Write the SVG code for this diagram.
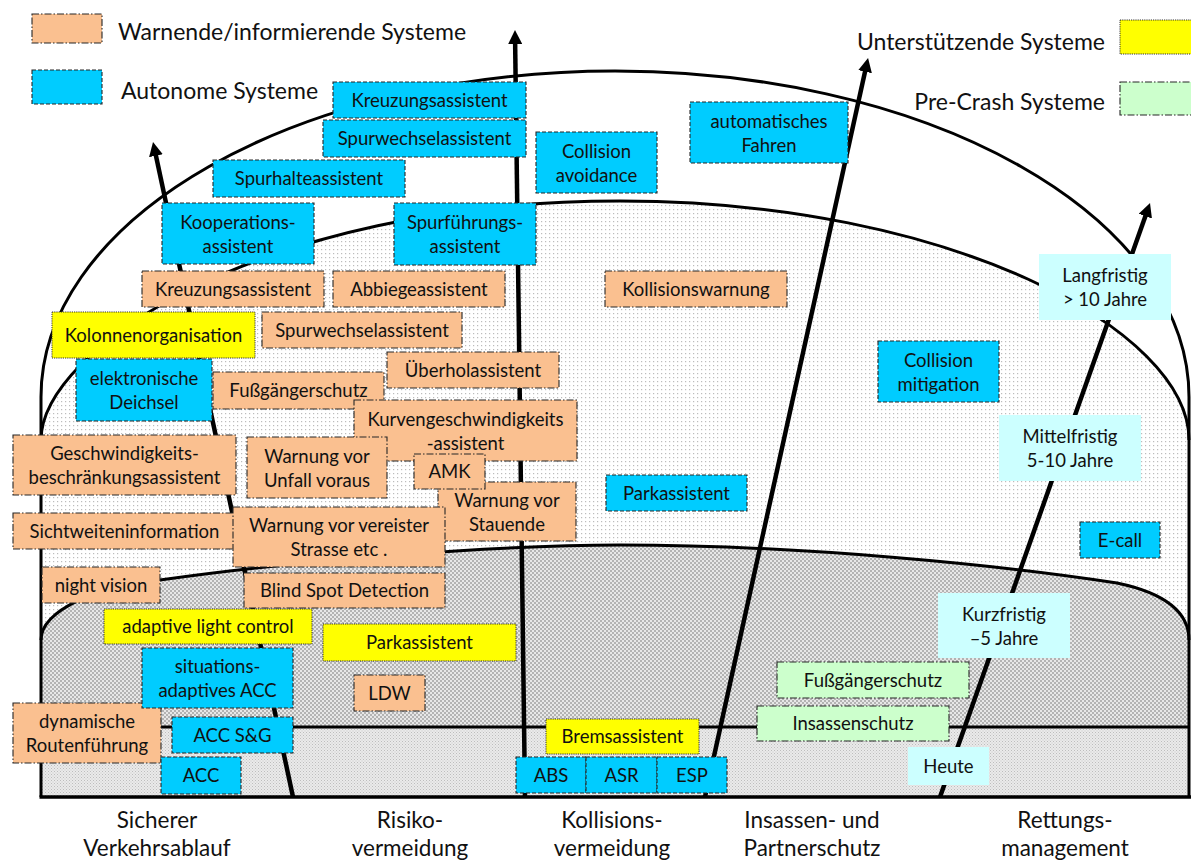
<svg xmlns="http://www.w3.org/2000/svg" width="1191" height="861" viewBox="0 0 1191 861">
  <style>
    text { font-family: Lato, "Open Sans", "Liberation Sans", sans-serif; fill: #111; }
    .lbl { font-size: 18.5px; text-anchor: middle; }
    .big { font-size: 23px; }
    .cap { font-size: 22.5px; text-anchor: middle; }
    .warn { fill: #FAC090; stroke: #262626; stroke-width: 1.1; stroke-dasharray: 7 2 1.5 2; }
    .auto { fill: #00CCFF; stroke: #262626; stroke-width: 1.1; stroke-dasharray: 4 2; }
    .supp { fill: #FFFF00; stroke: #333; stroke-width: 1; stroke-dasharray: 1.2 1; }
    .pre  { fill: #CCFFCC; stroke: #262626; stroke-width: 1.1; stroke-dasharray: 7 2 1.5 2; }
    .time { fill: #CCFFFF; stroke: none; }
    .edge { fill: none; stroke: #000; stroke-width: 3; }
    .arrow { fill: none; stroke: #000; stroke-width: 4.5; marker-end: url(#head); }
  </style>
  <defs>
    <marker id="head" viewBox="0 0 14 14" refX="4" refY="7" markerUnits="userSpaceOnUse" markerWidth="14" markerHeight="14" orient="auto">
      <path d="M0,0 L14,7 L0,14 z" fill="#000"/>
    </marker>
    <pattern id="dotsLight" width="4" height="4" patternUnits="userSpaceOnUse">
      <rect width="4" height="4" fill="#fff"/>
      <rect x="1" y="1" width="1.2" height="1.2" fill="#bcbcbc"/>
    </pattern>
    <pattern id="dotsDense" width="4" height="4" patternUnits="userSpaceOnUse">
      <rect width="4" height="4" fill="#dcdcdc"/>
      <circle cx="1" cy="1" r="1" fill="#a6a6a6"/>
      <circle cx="3" cy="3" r="1" fill="#a6a6a6"/>
      <circle cx="3" cy="1" r="0.8" fill="#f5f5f5"/>
      <circle cx="1" cy="3" r="0.8" fill="#f5f5f5"/>
    </pattern>
    <pattern id="hatchFine" width="3" height="3" patternUnits="userSpaceOnUse">
      <rect width="3" height="3" fill="#eaeaea"/>
      <rect width="1" height="1" fill="#bdbdbd"/>
      <rect x="1.5" y="1.5" width="1" height="1" fill="#c9c9c9"/>
    </pattern>
  </defs>

  <rect width="1191" height="861" fill="#fff"/>

  <!-- time horizon bands -->
  <g id="regions">
    <path d="M41,797 L41,440 C41,350 260,201 620,201 C950,201 1189,330 1189,440 L1189,797 Z" fill="url(#dotsLight)"/>
    <path d="M41,797 L41,640 C41,610 100,585 160,580 C300,560 500,545 620,545 C800,545 1000,565 1117,583 C1160,592 1189,610 1189,640 L1189,797 Z" fill="url(#dotsDense)"/>
    <rect x="41" y="727" width="1148" height="70" fill="url(#hatchFine)"/>
    <path class="edge" d="M41,797 L41,397 A574,326 0 0 1 1189,397 L1189,797"/>
    <path class="edge" d="M41,440 C41,350 260,201 620,201 C950,201 1189,330 1189,440"/>
    <path class="edge" d="M41,640 C41,610 100,585 160,580 C300,560 500,545 620,545 C800,545 1000,565 1117,583 C1160,592 1189,610 1189,640"/>
    <line class="edge" x1="41" y1="727" x2="1189" y2="727"/>
    <line x1="39.5" y1="797" x2="1191" y2="797" stroke="#000" stroke-width="3.5"/>
  </g>

  <!-- category axes -->
  <g id="connectors">
    <line class="arrow" x1="293" y1="797" x2="155.1" y2="151.8"/>
    <line class="arrow" x1="525" y1="797" x2="515.1" y2="40"/>
    <line class="arrow" x1="705" y1="797" x2="865.9" y2="67.8"/>
    <line class="arrow" x1="940" y1="797" x2="1146.7" y2="212.4"/>
  </g>

  <!-- legend -->
  <g id="legend-warn">
    <rect class="warn" x="32" y="14" width="70" height="29"/>
    <text class="big" x="118" y="40">Warnende/informierende Systeme</text>
  </g>
  <g id="legend-auto">
    <rect class="auto" x="32" y="70" width="70" height="34"/>
    <text class="big" x="121" y="99">Autonome Systeme</text>
  </g>
  <g id="legend-supp">
    <rect class="supp" x="1120" y="20" width="72" height="34"/>
    <text class="big" x="1105" y="50" text-anchor="end">Unterstützende Systeme</text>
  </g>
  <g id="legend-pre">
    <rect class="pre" x="1120" y="82" width="72" height="33"/>
    <text class="big" x="1105" y="110" text-anchor="end">Pre-Crash Systeme</text>
  </g>

  <!-- autonomous systems -->
  <g id="a-kreuzung"><rect class="auto" x="333" y="82" width="193" height="36"/><text class="lbl" x="429.5" y="106.5">Kreuzungsassistent</text></g>
  <g id="a-spurwechsel"><rect class="auto" x="323" y="120" width="203" height="37"/><text class="lbl" x="424.5" y="145">Spurwechselassistent</text></g>
  <g id="a-spurhalte"><rect class="auto" x="213" y="160" width="192" height="37"/><text class="lbl" x="309" y="185">Spurhalteassistent</text></g>
  <g id="a-kooperation"><rect class="auto" x="162" y="203" width="152" height="61"/><text class="lbl" x="238" y="228.5">Kooperations-</text><text class="lbl" x="238" y="252.5">assistent</text></g>
  <g id="a-spurfuehrung"><rect class="auto" x="394" y="203" width="142" height="62"/><text class="lbl" x="465" y="229">Spurführungs-</text><text class="lbl" x="465" y="253">assistent</text></g>
  <g id="a-avoidance"><rect class="auto" x="536" y="132" width="121" height="61"/><text class="lbl" x="596.5" y="157.5">Collision</text><text class="lbl" x="596.5" y="181.5">avoidance</text></g>
  <g id="a-auto-fahren"><rect class="auto" x="690" y="102" width="158" height="61"/><text class="lbl" x="769" y="127.5">automatisches</text><text class="lbl" x="769" y="151.5">Fahren</text></g>
  <g id="a-mitigation"><rect class="auto" x="878" y="341" width="121" height="61"/><text class="lbl" x="938.5" y="366.5">Collision</text><text class="lbl" x="938.5" y="390.5">mitigation</text></g>
  <g id="a-park"><rect class="auto" x="606" y="475" width="141" height="36"/><text class="lbl" x="676.5" y="499.5">Parkassistent</text></g>
  <g id="a-ecall"><rect class="auto" x="1080" y="522" width="80" height="36"/><text class="lbl" x="1120" y="546.5">E-call</text></g>
  <g id="a-deichsel"><rect class="auto" x="76" y="359" width="136" height="62"/><text class="lbl" x="144" y="385">elektronische</text><text class="lbl" x="144" y="409">Deichsel</text></g>

  <!-- warning / information systems -->
  <g id="w-kreuzung"><rect class="warn" x="142" y="271" width="182" height="36"/><text class="lbl" x="233" y="295.5">Kreuzungsassistent</text></g>
  <g id="w-abbiege"><rect class="warn" x="333" y="271" width="172" height="36"/><text class="lbl" x="419" y="295.5">Abbiegeassistent</text></g>
  <g id="w-kollision"><rect class="warn" x="605" y="271" width="182" height="36"/><text class="lbl" x="696" y="295.5">Kollisionswarnung</text></g>
  <g id="w-spurwechsel"><rect class="warn" x="262" y="312" width="200" height="36"/><text class="lbl" x="362" y="336.5">Spurwechselassistent</text></g>
  <g id="w-ueberhol"><rect class="warn" x="387" y="352" width="172" height="36"/><text class="lbl" x="473" y="376.5">Überholassistent</text></g>
  <g id="w-fussgaenger"><rect class="warn" x="213" y="372" width="171" height="37"/><text class="lbl" x="298.5" y="397">Fußgängerschutz</text></g>
  <g id="w-kurve"><rect class="warn" x="354" y="400" width="223" height="61"/><text class="lbl" x="465.5" y="425.5">Kurvengeschwindigkeits</text><text class="lbl" x="465.5" y="449.5">-assistent</text></g>
  <g id="w-geschwindigkeit"><rect class="warn" x="13" y="435" width="223" height="60"/><text class="lbl" x="124.5" y="460">Geschwindigkeits-</text><text class="lbl" x="124.5" y="484">beschränkungsassistent</text></g>
  <g id="w-unfall"><rect class="warn" x="247" y="437" width="140" height="61"/><text class="lbl" x="317" y="462.5">Warnung vor</text><text class="lbl" x="317" y="486.5">Unfall voraus</text></g>
  <g id="w-stauende"><rect class="warn" x="438" y="482" width="138" height="59"/><text class="lbl" x="507" y="506.5">Warnung vor</text><text class="lbl" x="507" y="530.5">Stauende</text></g>
  <g id="w-amk"><rect class="warn" x="414" y="454" width="71" height="35"/><text class="lbl" x="449.5" y="478">AMK</text></g>
  <g id="w-sichtweite"><rect class="warn" x="13" y="513" width="223" height="36"/><text class="lbl" x="124.5" y="537.5">Sichtweiteninformation</text></g>
  <g id="w-vereist"><rect class="warn" x="233" y="507" width="212" height="60"/><text class="lbl" x="339" y="532">Warnung vor vereister</text><text class="lbl" x="339" y="556">Strasse etc .</text></g>
  <g id="w-nightvision"><rect class="warn" x="42" y="567" width="118" height="36"/><text class="lbl" x="101" y="591.5">night vision</text></g>
  <g id="w-blindspot"><rect class="warn" x="244" y="573" width="201" height="35"/><text class="lbl" x="344.5" y="597">Blind Spot Detection</text></g>
  <g id="w-ldw"><rect class="warn" x="354" y="675" width="71" height="36"/><text class="lbl" x="389.5" y="699.5">LDW</text></g>
  <g id="w-route"><rect class="warn" x="13" y="703" width="148" height="60"/><text class="lbl" x="87" y="728">dynamische</text><text class="lbl" x="87" y="752">Routenführung</text></g>

  <!-- supporting systems -->
  <g id="u-kolonne"><rect class="supp" x="52" y="312" width="203" height="46"/><text class="lbl" x="153.5" y="341.5">Kolonnenorganisation</text></g>
  <g id="u-light"><rect class="supp" x="104" y="609" width="208" height="35"/><text class="lbl" x="208" y="633">adaptive light control</text></g>
  <g id="u-park"><rect class="supp" x="323" y="624" width="193" height="37"/><text class="lbl" x="419.5" y="649">Parkassistent</text></g>
  <g id="u-brems"><rect class="supp" x="546" y="719" width="153" height="35"/><text class="lbl" x="622.5" y="743">Bremsassistent</text></g>

  <!-- autonomous systems, lower band -->
  <g id="a-situation"><rect class="auto" x="142" y="648" width="151" height="60"/><text class="lbl" x="217.5" y="673">situations-</text><text class="lbl" x="217.5" y="697">adaptives ACC</text></g>
  <g id="a-acc-sg"><rect class="auto" x="172" y="717" width="121" height="36"/><text class="lbl" x="232.5" y="741.5">ACC S&amp;G</text></g>
  <g id="a-acc"><rect class="auto" x="161" y="757" width="80" height="37"/><text class="lbl" x="201" y="782">ACC</text></g>
  <g id="a-abs"><rect class="auto" x="516" y="757" width="70" height="36"/><text class="lbl" x="551" y="781.5">ABS</text></g>
  <g id="a-asr"><rect class="auto" x="586" y="757" width="71" height="36"/><text class="lbl" x="621.5" y="781.5">ASR</text></g>
  <g id="a-esp"><rect class="auto" x="657" y="757" width="70" height="36"/><text class="lbl" x="692" y="781.5">ESP</text></g>

  <!-- pre-crash systems -->
  <g id="p-fussgaenger"><rect class="pre" x="777" y="662" width="192" height="36"/><text class="lbl" x="873" y="686.5">Fußgängerschutz</text></g>
  <g id="p-insassen"><rect class="pre" x="757" y="706" width="192" height="35"/><text class="lbl" x="853" y="730">Insassenschutz</text></g>

  <!-- time horizon labels -->
  <g id="t-lang"><rect class="time" x="1039" y="254" width="132" height="66"/><text class="lbl" x="1105" y="282">Langfristig</text><text class="lbl" x="1105" y="306">&gt; 10 Jahre</text></g>
  <g id="t-mittel"><rect class="time" x="999" y="415" width="142" height="66"/><text class="lbl" x="1070" y="443">Mittelfristig</text><text class="lbl" x="1070" y="467">5-10 Jahre</text></g>
  <g id="t-kurz"><rect class="time" x="938" y="593" width="132" height="65"/><text class="lbl" x="1004" y="620.5">Kurzfristig</text><text class="lbl" x="1004" y="644.5">–5 Jahre</text></g>
  <g id="t-heute"><rect class="time" x="908" y="747" width="81" height="38"/><text class="lbl" x="948.5" y="772.5">Heute</text></g>

  <!-- category captions -->
  <g id="captions">
    <text class="cap" x="157" y="828">Sicherer</text><text class="cap" x="157" y="856">Verkehrsablauf</text>
    <text class="cap" x="410" y="828">Risiko-</text><text class="cap" x="410" y="856">vermeidung</text>
    <text class="cap" x="612" y="828">Kollisions-</text><text class="cap" x="612" y="856">vermeidung</text>
    <text class="cap" x="812" y="828">Insassen- und</text><text class="cap" x="812" y="856">Partnerschutz</text>
    <text class="cap" x="1065" y="828">Rettungs-</text><text class="cap" x="1065" y="856">management</text>
  </g>
</svg>
